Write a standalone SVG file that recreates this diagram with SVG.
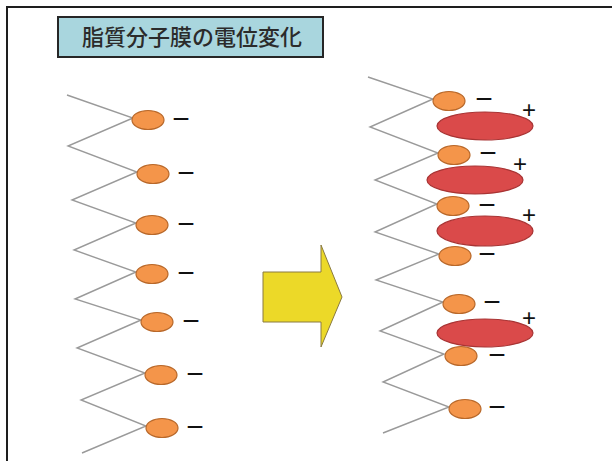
<svg xmlns="http://www.w3.org/2000/svg" width="612" height="461" viewBox="0 0 612 461">
  <style>
    .frame { stroke: #1e1e1e; stroke-width: 2; fill: none; }
    .title-box { fill: #a9d6de; stroke: #262626; stroke-width: 2; }
    .title { font-family: "Noto Sans CJK JP", "Noto Sans CJK SC", sans-serif; font-size: 22px; font-weight: 500; fill: #2b2b2b; }
    .tail { stroke: #9a9a9a; stroke-width: 1.4; fill: none; stroke-linejoin: miter; }
    .head { fill: #f4954a; stroke: #b8682a; stroke-width: 1.2; }
    .ion { fill: #da4a4a; stroke: #a83434; stroke-width: 1.2; }
    .neg { font-family: "Liberation Sans", Arial, sans-serif; font-size: 30px; fill: #111; text-anchor: middle; }
    .pos { font-family: "Liberation Sans", Arial, sans-serif; font-size: 24px; fill: #111; text-anchor: middle; }
    .arrow { fill: #ecd928; stroke: #8a7a40; stroke-width: 1; }
  </style>

  <rect width="612" height="461" fill="#ffffff"/>

  <!-- slide frame: top and left edges -->
  <path class="frame" d="M7 461 V7 H612"/>

  <!-- title -->
  <g id="title">
    <rect class="title-box" x="58" y="17" width="265" height="40"/>
    <text class="title" x="192" y="45" text-anchor="middle">脂質分子膜の電位変化</text>
  </g>

  <!-- lipid tails (zig-zag chains) -->
  <g id="connectors">
    <polyline class="tail" points="67,95 133,118 68,146 137,172 72,200 136,223 74,250 136,272 75,299 141,320 77,348 145,373 81,400 146,426 82,453"/>
    <polyline class="tail" points="368,77 433,99 370,127 438,153 375,180 437,204 375,232 439,254 376,280 443,302 380,331 444,354 383,382 449,407 383,433"/>
  </g>

  <!-- left membrane: resting state -->
  <g id="left-head-1"><ellipse class="head" cx="148" cy="120" rx="16" ry="9.5"/><text class="neg" x="181" y="129">−</text></g>
  <g id="left-head-2"><ellipse class="head" cx="153" cy="174" rx="16" ry="9.5"/><text class="neg" x="186" y="183">−</text></g>
  <g id="left-head-3"><ellipse class="head" cx="152" cy="225" rx="16" ry="9.5"/><text class="neg" x="186" y="234">−</text></g>
  <g id="left-head-4"><ellipse class="head" cx="152" cy="274" rx="16" ry="9.5"/><text class="neg" x="186" y="283">−</text></g>
  <g id="left-head-5"><ellipse class="head" cx="157" cy="322" rx="16" ry="9.5"/><text class="neg" x="191" y="331">−</text></g>
  <g id="left-head-6"><ellipse class="head" cx="161" cy="375" rx="16" ry="9.5"/><text class="neg" x="195" y="384">−</text></g>
  <g id="left-head-7"><ellipse class="head" cx="162" cy="428" rx="16" ry="9.5"/><text class="neg" x="195" y="437">−</text></g>

  <!-- transition arrow -->
  <g id="arrow">
    <polygon class="arrow" points="263,272 321,272 321,245 342,297 321,347 321,322 263,322"/>
  </g>

  <!-- right membrane: heads with bound cations -->
  <g id="right-head-1"><ellipse class="head" cx="449" cy="101" rx="16" ry="9.5"/><text class="neg" x="484" y="109">−</text></g>
  <g id="right-head-2"><ellipse class="head" cx="454" cy="155" rx="16" ry="9.5"/><text class="neg" x="488" y="163">−</text></g>
  <g id="right-head-3"><ellipse class="head" cx="453" cy="206" rx="16" ry="9.5"/><text class="neg" x="487" y="215">−</text></g>
  <g id="right-head-4"><ellipse class="head" cx="455" cy="256" rx="16" ry="9.5"/><text class="neg" x="487" y="264">−</text></g>
  <g id="right-head-5"><ellipse class="head" cx="459" cy="304" rx="16" ry="9.5"/><text class="neg" x="492" y="312">−</text></g>
  <g id="right-head-6"><ellipse class="head" cx="461" cy="356" rx="16" ry="9.5"/><text class="neg" x="497" y="365">−</text></g>
  <g id="right-head-7"><ellipse class="head" cx="465" cy="409" rx="16" ry="9.5"/><text class="neg" x="497" y="417">−</text></g>

  <g id="cation-1"><ellipse class="ion" cx="485" cy="126" rx="48" ry="14"/><text class="pos" x="529" y="118">+</text></g>
  <g id="cation-2"><ellipse class="ion" cx="475" cy="180" rx="48" ry="14"/><text class="pos" x="520" y="172">+</text></g>
  <g id="cation-3"><ellipse class="ion" cx="485" cy="231" rx="48" ry="15"/><text class="pos" x="529" y="223">+</text></g>
  <g id="cation-4"><ellipse class="ion" cx="485" cy="333" rx="48" ry="14"/><text class="pos" x="529" y="326">+</text></g>
</svg>
